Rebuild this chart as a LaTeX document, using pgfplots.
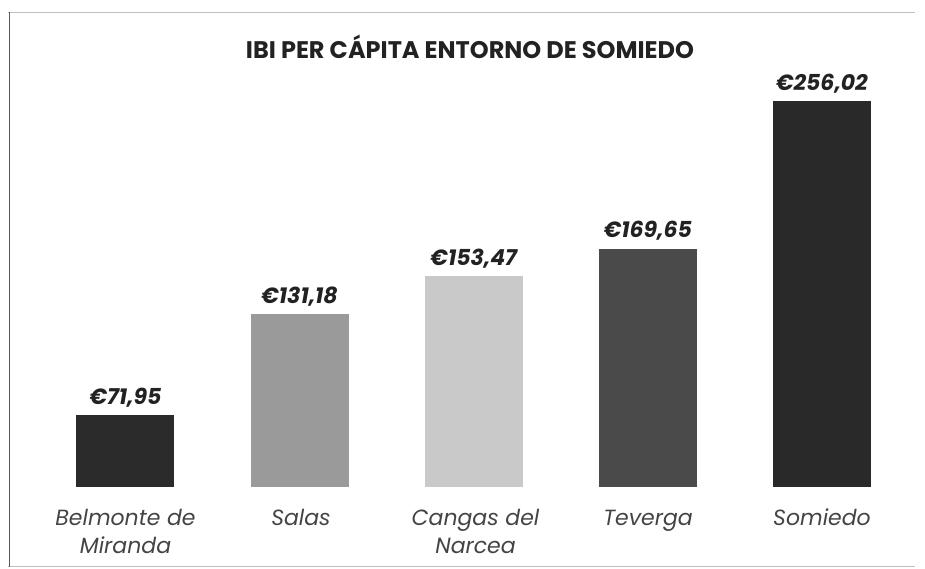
\documentclass[border=0pt]{standalone}
\usepackage{pgfplots}
\pgfplotsset{compat=1.18}
\usepackage{fontspec}
\setmainfont{Poppins}
\definecolor{cA}{HTML}{2B2B2B}
\definecolor{cB}{HTML}{9A9A9A}
\definecolor{cC}{HTML}{C9C9C9}
\definecolor{cD}{HTML}{4A4A4A}
\definecolor{cE}{HTML}{292929}
\definecolor{txt}{HTML}{222222}
\definecolor{lab}{HTML}{444444}
\begin{document}
\begin{tikzpicture}
\path[use as bounding box] (-21pt,-82pt) rectangle (904pt,487pt);
\draw[color=black!25, line width=0.8pt] (-13pt,475pt) -- (894pt,475pt);
\draw[color=black!25, line width=0.8pt] (-13pt,-79pt) -- (894pt,-79pt);
\draw[color=black!65, line width=0.9pt] (-12pt,475pt) -- (-12pt,-80pt);
\begin{axis}[
  at={(0,0)}, anchor=south west,
  scale only axis, width=888pt, height=412pt,
  xmin=-0.6, xmax=4.5, ymin=30, ymax=271.5,
  axis lines=none, clip=false,
  ybar=0pt, bar width=98pt, bar shift=0pt,
  xtick=\empty, ytick=\empty,
  nodes near coords style={font=\fontsize{22}{26}\selectfont\bfseries\itshape, text=txt, yshift=5pt},
]
\addplot[fill=cA, draw=none, nodes near coords={€71,95}] coordinates {(0,71.95)};
\addplot[fill=cB, draw=none, nodes near coords={€131,18}] coordinates {(1,131.18)};
\addplot[fill=cC, draw=none, nodes near coords={€153,47}] coordinates {(2,153.47)};
\addplot[fill=cD, draw=none, nodes near coords={€169,65}] coordinates {(3,169.65)};
\addplot[fill=cE, draw=none, nodes near coords={€256,02}] coordinates {(4,256.02)};
\end{axis}
\node[font=\fontsize{24}{28}\selectfont\bfseries, text=txt] at (449pt,440pt) {IBI PER CÁPITA ENTORNO DE SOMIEDO};
\begin{scope}[every node/.style={font=\fontsize{22}{28}\selectfont\itshape, text=lab, align=center, anchor=north, inner sep=0pt}]
\node at (104.5pt,-19pt) {\strut Belmonte de\\Miranda};
\node at (280pt,-19pt) {\strut Salas};
\node at (454.5pt,-19pt) {\strut Cangas del\\Narcea};
\node at (627pt,-19pt) {\strut Teverga};
\node at (801pt,-19pt) {\strut Somiedo};
\end{scope}
\end{tikzpicture}
\end{document}
